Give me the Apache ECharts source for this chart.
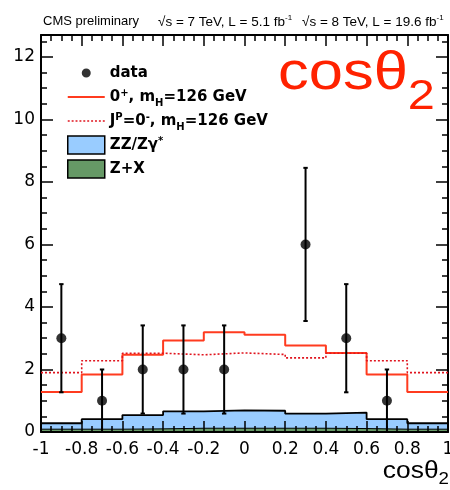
<!DOCTYPE html>
<html><head><meta charset="utf-8">
<script src="https://cdn.jsdelivr.net/npm/echarts@6/dist/echarts.min.js"></script>
<style>html,body{margin:0;padding:0;background:#fff}#c{width:450px;height:490px}</style>
</head><body><div id="c"></div>
<script>
// ---- data ----
const binCenters = [-0.9, -0.7, -0.5, -0.3, -0.1, 0.1, 0.3, 0.5, 0.7, 0.9];
const binWidth = 0.2;
const dataCounts  = [3, 1, 2, 2, 2, 0, 6, 3, 1, 0];
const dataErrLow  = [1.27, 0, 0.59, 0.59, 0.59, 0, 3.55, 1.27, 0, 0];
const dataErrHigh = [4.73, 2, 3.41, 3.41, 3.41, 0, 8.45, 4.73, 2, 0];
const sig0plus  = [1.28, 1.84, 2.47, 2.93, 3.19, 3.11, 2.77, 2.53, 1.84, 1.28];
const sig0minus = [1.90, 2.28, 2.52, 2.47, 2.53, 2.48, 2.37, 2.52, 2.28, 1.90];
const bkgZZ = [0.28, 0.41, 0.54, 0.66, 0.69, 0.68, 0.585, 0.62, 0.41, 0.28];
const bkgZX = [0.09, 0.09, 0.10, 0.12, 0.12, 0.12, 0.12, 0.11, 0.09, 0.09];
const xTickValues = [-1, -0.8, -0.6, -0.4, -0.2, 0, 0.2, 0.4, 0.6, 0.8, 1];
const xTickLabels = ['-1', '-0.8', '-0.6', '-0.4', '-0.2', '0', '0.2', '0.4', '0.6', '0.8', '1'];
const yTickValues = [0, 2, 4, 6, 8, 10, 12];
const yTickLabels = ['0', '2', '4', '6', '8', '10', '12'];

const FONT = '"Liberation Sans", Arial, Helvetica, sans-serif';
const WIDE = '"DejaVu Sans", "Liberation Sans", sans-serif';
const X_MIN = -1, X_MAX = 1, Y_MIN = 0, Y_MAX = 12.7;

function lookup(vals, labels, v) {
  for (let i = 0; i < vals.length; i++) if (Math.abs(vals[i] - v) < 1e-6) return labels[i];
  return '';
}
function stepData(vals) {
  const pts = binCenters.map((c, i) => [c - binWidth / 2, vals[i]]);
  pts.push([binCenters[binCenters.length - 1] + binWidth / 2, vals[vals.length - 1]]);
  return pts;
}
const pointData = [], errData = [];
binCenters.forEach((c, i) => {
  if (dataCounts[i] > 0) {
    pointData.push([c, dataCounts[i]]);
    errData.push([c, dataErrLow[i], dataErrHigh[i]]);
  }
});

const chart = echarts.init(document.getElementById('c'), null, {renderer: 'canvas'});

const tickStyle = {color: '#000', width: 1.5};
function xAx(pos, labels) {
  return {
    type: 'value', position: pos, min: X_MIN, max: X_MAX, interval: 0.2,
    axisLine: {show: true, onZero: false, lineStyle: {color: '#000', width: 2}},
    axisTick: {show: true, inside: true, length: 11, lineStyle: tickStyle},
    minorTick: {show: true, splitNumber: 4, length: 6, lineStyle: tickStyle},
    splitLine: {show: false}, minorSplitLine: {show: false},
    axisLabel: {show: labels, margin: 9, fontSize: 17, color: '#000', fontFamily: WIDE,
      formatter: v => lookup(xTickValues, xTickLabels, v)}
  };
}
function yAx(pos, major, labels) {
  return {
    type: 'value', position: pos, min: Y_MIN, max: Y_MAX, interval: major ? 2 : 0.5,
    axisLine: {show: major, onZero: false, lineStyle: {color: '#000', width: 2}},
    axisTick: {show: true, inside: true, length: major ? 12 : 6, lineStyle: tickStyle},
    splitLine: {show: false},
    axisLabel: {show: labels, margin: 6, fontSize: 17, color: '#000', fontFamily: WIDE,
      formatter: v => lookup(yTickValues, yTickLabels, v)}
  };
}

const LB = {fontWeight: 'bold', fontFamily: WIDE, color: '#000', verticalAlign: 'top'};
const legendRich = {
  t:   Object.assign({fontSize: 15, lineHeight: 24, padding: [5, 0, 4, 0]}, LB),
  sup: Object.assign({fontSize: 10, padding: [3, 0, 0, 0]}, LB),
  sub: Object.assign({fontSize: 10, padding: [13, 0, 0, 0]}, LB)
};
const legendLabels = {
  'data': '{t|data}',
  '0+': '{t|0}{sup|+}{t|, m}{sub|H}{t|=126 GeV}',
  '0-': '{t|J}{sup|P}{t|=0}{sup|-}{t|, m}{sub|H}{t|=126 GeV}',
  'ZZ': '{t|ZZ/Z\u03b3}{sup|*}',
  'ZX': '{t|Z+X}'
};
const dotIcon = 'path://M0,0L0.01,0ZM37,18L36.99,18ZM14,9A4.5,4.5,0,1,1,23,9A4.5,4.5,0,1,1,14,9Z';
const solidIcon = 'path://M0,0h37v1.8h-37z';
let dashPath = 'path://';
for (let x = 0; x < 37; x += 4) dashPath += 'M' + x + ',0h2v1.6h-2z';

const TS = {fontFamily: FONT, fill: '#000', verticalAlign: 'top'};
const titleRich = {
  t: Object.assign({fontSize: 13.5, padding: [3, 0, 0, 0]}, TS),
  s: Object.assign({fontSize: 8, padding: [2, 0, 0, 0]}, TS)
};

const option = {
  animation: false,
  backgroundColor: '#fff',
  grid: {left: 41, right: 2, top: 35, bottom: 58, containLabel: false, outerBoundsMode: 'none'},
  xAxis: [xAx('bottom', true), xAx('top', false)],
  yAxis: [yAx('left', true, true), yAx('left', false, false), yAx('right', true, false), yAx('right', false, false)],
  legend: {
    orient: 'vertical', left: 67, top: 61, padding: 0, itemWidth: 37, itemHeight: 18, itemGap: 0,
    symbolKeepAspect: true, selectedMode: false,
    textStyle: {rich: legendRich, fontFamily: WIDE},
    formatter: name => legendLabels[name],
    data: [
      {name: 'data', icon: dotIcon, itemStyle: {color: '#000', borderWidth: 0}},
      {name: '0+', icon: solidIcon, itemStyle: {color: '#ff3b1f', borderWidth: 0}},
      {name: '0-', icon: dashPath, itemStyle: {color: '#e0141e', borderWidth: 0}},
      {name: 'ZZ', icon: 'rect', itemStyle: {color: '#99ccff', borderColor: '#000', borderWidth: 1.5}},
      {name: 'ZX', icon: 'rect', itemStyle: {color: '#669966', borderColor: '#000', borderWidth: 1.5}}
    ]
  },
  graphic: [
    {type: 'text', z: 100, style: {x: 43, y: 12, text: '{t|CMS preliminary}', rich: {
      t: Object.assign({fontSize: 13, padding: [3, 0, 0, 0]}, TS)}}},
    {type: 'text', z: 100, style: {x: 158, y: 12, text: '{t|\u221as = 7 TeV, L = 5.1 fb}{s|-1}', rich: titleRich}},
    {type: 'text', z: 100, style: {x: 302, y: 12, text: '{t|\u221as = 8 TeV, L = 19.6 fb}{s|-1}', rich: titleRich}},
    {type: 'text', z: 100, x: 278, y: 48.3, scaleX: 1.16, style: {x: 0, y: 0, text: '{a|cos\u03b8}{b|2}', rich: {
      a: {fontSize: 53, fontFamily: FONT, fill: '#ff2200', lineHeight: 53, verticalAlign: 'top'},
      b: {fontSize: 42, fontFamily: FONT, fill: '#ff2200', lineHeight: 42, verticalAlign: 'top', padding: [27.8, 0, 0, 0]}}}},
    {type: 'text', z: 100, x: 449, y: 459.6, scaleX: 1.1, style: {x: 0, y: 0, align: 'right', text: '{a|cos\u03b8}{b|2}', rich: {
      a: {fontSize: 24, fontFamily: FONT, fill: '#000', lineHeight: 24, verticalAlign: 'top'},
      b: {fontSize: 17, fontFamily: FONT, fill: '#000', lineHeight: 17, verticalAlign: 'top', padding: [10.9, 0, 0, 0]}}}}
  ],
  series: [
    {name: 'ZZ', type: 'line', step: 'end', data: stepData(bkgZZ), symbol: 'none', z: -1,
      lineStyle: {color: '#000', width: 1.8}, itemStyle: {color: '#99ccff'},
      areaStyle: {color: '#99ccff', opacity: 1}},
    {name: 'ZX', type: 'line', step: 'end', data: stepData(bkgZX), symbol: 'none', z: -1,
      lineStyle: {color: '#000', width: 1}, itemStyle: {color: '#669966'},
      areaStyle: {color: '#669966', opacity: 1}},
    {name: '0+', type: 'line', step: 'end', data: stepData(sig0plus), symbol: 'none', z: 3,
      lineStyle: {color: '#ff3b1f', width: 2}, itemStyle: {color: '#ff3b1f'}},
    {name: '0-', type: 'line', step: 'end', data: stepData(sig0minus), symbol: 'none', z: 3,
      lineStyle: {color: '#e0141e', width: 1.6, type: [2, 2]}, itemStyle: {color: '#e0141e'}},
    {name: 'dataErr', type: 'custom', z: 4, data: errData,
      renderItem: (params, api) => {
        const x = api.value(0);
        const lo = api.coord([x, api.value(1)]);
        const hi = api.coord([x, api.value(2)]);
        const st = {stroke: '#000', lineWidth: 2};
        const cap = 2.2;
        return {type: 'group', children: [
          {type: 'line', shape: {x1: lo[0], y1: lo[1], x2: hi[0], y2: hi[1]}, style: st},
          {type: 'line', shape: {x1: hi[0] - cap, y1: hi[1], x2: hi[0] + cap, y2: hi[1]}, style: st},
          {type: 'line', shape: {x1: lo[0] - cap, y1: lo[1], x2: lo[0] + cap, y2: lo[1]}, style: st}
        ]};
      }},
    {name: 'data', type: 'scatter', z: 5, data: pointData, symbol: 'circle', symbolSize: 10,
      itemStyle: {color: '#000'}}
  ]
};
chart.setOption(option);
</script></body></html>
